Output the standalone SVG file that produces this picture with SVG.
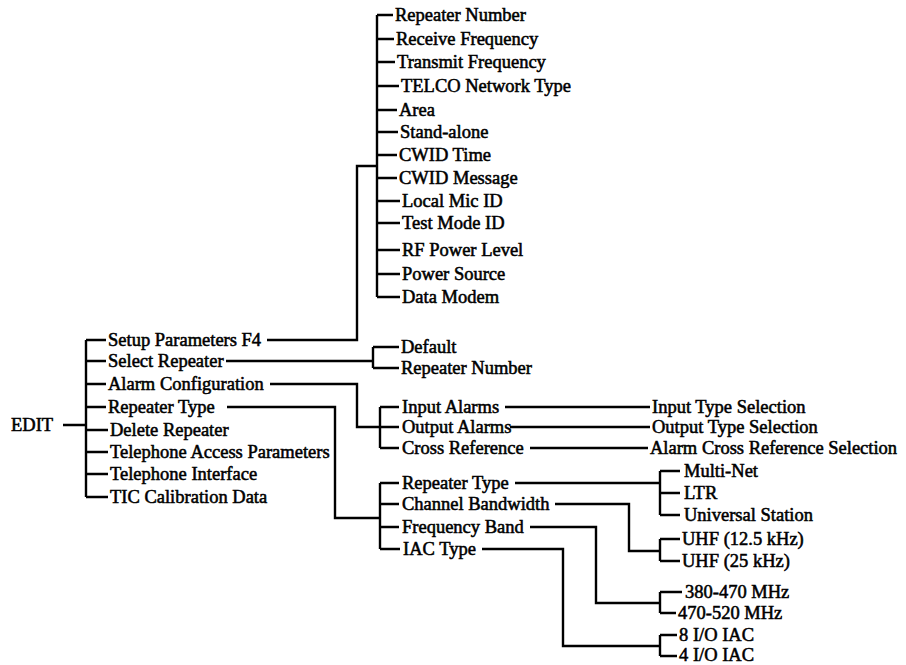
<svg xmlns="http://www.w3.org/2000/svg" width="906" height="665" viewBox="0 0 906 665">
<style>
.t{font-family:"Liberation Serif","Times New Roman",serif;font-size:18.5px;fill:#000;stroke:#000;stroke-width:0.55px}
.c path{fill:none;stroke:#000;stroke-width:2.4px}
</style>
<rect width="906" height="665" fill="#fff"/>
<g class="c" id="connectors">
<path d="M377,15 V297 M377,15 H393 M377,39 H394 M377,62 H395 M377,86 H399 M377,110 H397 M377,132 H398 M377,155 H397 M377,178 H397 M377,201 H400 M377,223 H400 M377,250 H400 M377,274 H400 M377,297 H400"/>
<path d="M267,340 H357 V166 H377"/>
<path d="M63,425 H86 M86,340 V497 M86,340 H106 M86,361 H106 M86,384 H106 M86,407 H106 M86,430 H108 M86,452 H108 M86,474 H108 M86,497 H108"/>
<path d="M226,361 H373 M373,347 V368 M373,347 H399 M373,368 H399"/>
<path d="M270,384 H357 V427 H380 M380,407 V448 M380,407 H399 M380,427 H399 M380,448 H399"/>
<path d="M505,407 H650 M510,427 H650 M530,448 H648"/>
<path d="M227,407 H335 V518 H380 M380,483 V549 M380,483 H399 M380,504 H399 M380,527 H399 M380,549 H400"/>
<path d="M515,483 H660 M660,471 V515 M660,471 H680 M660,493 H680 M660,515 H680"/>
<path d="M555,504 H629 V551 H660 M660,539 V561 M660,539 H680 M660,561 H680"/>
<path d="M530,527 H596 V603 H660 M660,592 V613 M660,592 H682 M660,613 H676"/>
<path d="M482,549 H563 V646 H660 M660,635 V656 M660,635 H677 M660,656 H677"/>
</g>
<g id="edit"><text class="t" x="11" y="431">EDIT</text></g>
<g id="setup-children">
<text class="t" x="395" y="21">Repeater Number</text>
<text class="t" x="396" y="45">Receive Frequency</text>
<text class="t" x="397" y="68">Transmit Frequency</text>
<text class="t" x="401" y="92">TELCO Network Type</text>
<text class="t" x="399" y="116">Area</text>
<text class="t" x="400" y="138">Stand-alone</text>
<text class="t" x="399" y="161">CWID Time</text>
<text class="t" x="399" y="184">CWID Message</text>
<text class="t" x="402" y="207">Local Mic ID</text>
<text class="t" x="402" y="229">Test Mode ID</text>
<text class="t" x="402" y="256">RF Power Level</text>
<text class="t" x="402" y="280">Power Source</text>
<text class="t" x="402" y="303">Data Modem</text>
</g>
<g id="edit-children">
<text class="t" x="108" y="346">Setup Parameters F4</text>
<text class="t" x="108" y="367">Select Repeater</text>
<text class="t" x="108" y="390">Alarm Configuration</text>
<text class="t" x="108" y="413">Repeater Type</text>
<text class="t" x="110" y="436">Delete Repeater</text>
<text class="t" x="110" y="458">Telephone Access Parameters</text>
<text class="t" x="110" y="480">Telephone Interface</text>
<text class="t" x="110" y="503">TIC Calibration Data</text>
</g>
<g id="select-children">
<text class="t" x="401" y="353">Default</text>
<text class="t" x="401" y="374">Repeater Number</text>
</g>
<g id="alarm-children">
<text class="t" x="402" y="413">Input Alarms</text>
<text class="t" x="402" y="433">Output Alarms</text>
<text class="t" x="402" y="454">Cross Reference</text>
</g>
<g id="alarm-selections">
<text class="t" x="652" y="413">Input Type Selection</text>
<text class="t" x="652" y="433">Output Type Selection</text>
<text class="t" x="650" y="454">Alarm Cross Reference Selection</text>
</g>
<g id="type-children">
<text class="t" x="402" y="489">Repeater Type</text>
<text class="t" x="402" y="510">Channel Bandwidth</text>
<text class="t" x="402" y="533">Frequency Band</text>
<text class="t" x="403" y="555">IAC Type</text>
</g>
<g id="repeater-types">
<text class="t" x="684" y="477">Multi-Net</text>
<text class="t" x="684" y="499">LTR</text>
<text class="t" x="684" y="521">Universal Station</text>
</g>
<g id="bandwidths">
<text class="t" x="682" y="545">UHF (12.5 kHz)</text>
<text class="t" x="682" y="567">UHF (25 kHz)</text>
</g>
<g id="bands">
<text class="t" x="685" y="598">380-470 MHz</text>
<text class="t" x="678" y="619">470-520 MHz</text>
</g>
<g id="iac-types">
<text class="t" x="679" y="641">8 I/O IAC</text>
<text class="t" x="679" y="661">4 I/O IAC</text>
</g>
</svg>
